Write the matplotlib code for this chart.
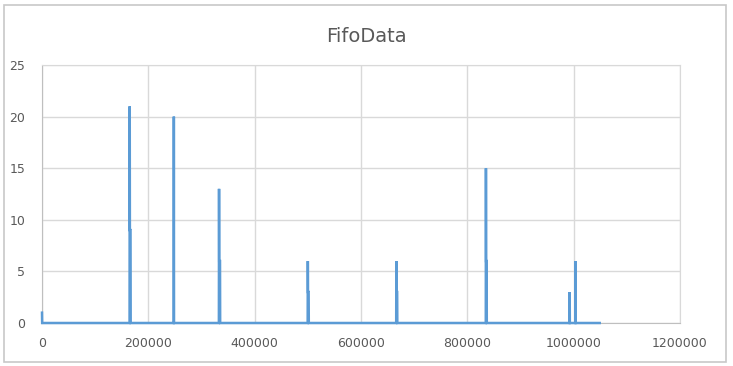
import matplotlib.pyplot as plt
from matplotlib.patches import Rectangle

# points of the FifoData series (index, value)
fifo_x = [0, 300, 164700, 165000, 165300, 166500, 166800,
          247700, 248000, 248300,
          332700, 333000, 333300, 334800, 335100,
          499700, 500000, 500300, 501500, 501800,
          666200, 666500, 666800, 668000, 668300,
          834700, 835000, 835300, 836300, 836600,
          992200, 992500, 992800, 1003200, 1003500, 1003800, 1049000]
fifo_y = [1, 0, 0, 21, 9, 9, 0,
          0, 20, 0,
          0, 13, 6, 6, 0,
          0, 6, 3, 3, 0,
          0, 6, 3, 3, 0,
          0, 15, 6, 6, 0,
          0, 3, 0, 0, 6, 0, 0]

x_ticks = [0, 200000, 400000, 600000, 800000, 1000000, 1200000]
y_ticks = [0, 5, 10, 15, 20, 25]

txt = '#595959'
grid = '#D9D9D9'

fig = plt.figure(figsize=(7.33, 3.66), dpi=100)
fig.patch.set_facecolor('white')

# chart area border like the spreadsheet chart object
fig.patches.append(Rectangle((4 / 733, 4 / 366), 722 / 733, 357 / 366,
                             transform=fig.transFigure, fill=False,
                             edgecolor='#C8C8C8', linewidth=1.2))

ax = fig.add_axes([42 / 733, 43 / 366, 638 / 733, 258 / 366])
ax.plot(fifo_x, fifo_y, color='#5B9BD5', linewidth=1.8,
        solid_joinstyle='miter', clip_on=False, zorder=5)

ax.set_xlim(0, 1200000)
ax.set_ylim(0, 25)
ax.set_xticks(x_ticks)
ax.set_yticks(y_ticks)
ax.set_xticklabels([str(v) for v in x_ticks])
ax.set_yticklabels([str(v) for v in y_ticks])
ax.grid(True, color=grid, linewidth=1)
ax.set_axisbelow(True)
for s in ax.spines.values():
    s.set_color(grid)
ax.spines['left'].set_color('#BFBFBF')
ax.spines['bottom'].set_color('#BFBFBF')
ax.tick_params(length=0, labelsize=9, labelcolor=txt)
ax.tick_params(axis='y', pad=12)
ax.tick_params(axis='x', pad=10)

fig.text(0.5, 1 - 37 / 366, 'FifoData', ha='center', va='center',
         fontsize=14, color=txt)

fig.savefig('out.png', dpi=100)
